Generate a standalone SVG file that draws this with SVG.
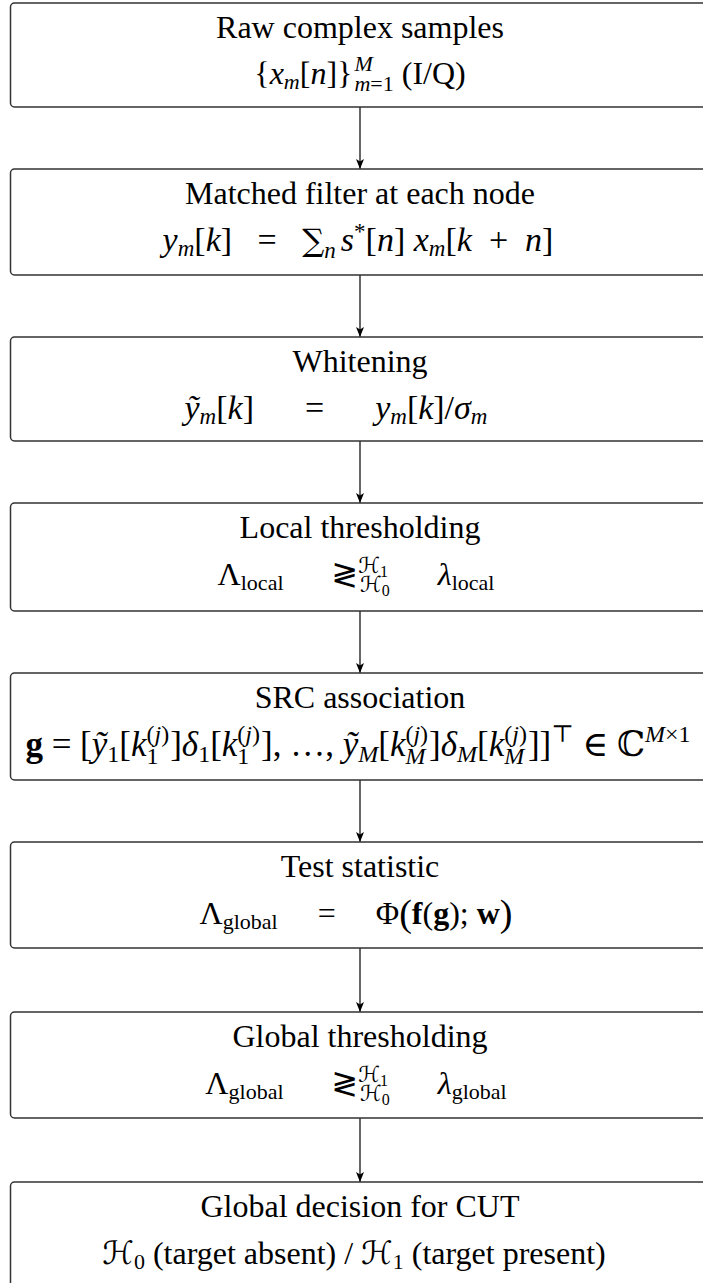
<svg xmlns="http://www.w3.org/2000/svg" width="703" height="1283" viewBox="0 0 703 1283">
<defs>
<style>
.box{fill:#fff;stroke:#333;stroke-width:1.5}
.t{font-family:"Liberation Serif","DejaVu Serif",serif;font-size:32px;fill:#000;text-anchor:middle}
.i{font-style:italic}
.b{font-weight:bold}
.s{font-size:22px}
.ss{font-size:16px}
.sym{font-family:"DejaVu Serif","DejaVu Sans",serif;font-style:normal}
.cal{font-family:"DejaVu Sans","DejaVu Serif",serif;font-style:normal}
.big{font-size:34px}
.big .s{font-size:23px}
.src{font-size:35px}
.src .s{font-size:24px}
.conn{stroke:#000;stroke-width:1.2;fill:none}
</style>
<marker id="ah" markerWidth="12" markerHeight="10" refX="10" refY="5" orient="auto" markerUnits="userSpaceOnUse">
<path d="M0,1 L10,5 L0,9 L2.5,5 Z" fill="#000"/>
</marker>
</defs>
<rect width="703" height="1283" fill="#fff"/>
<g id="connectors">
<line class="conn" x1="360" y1="107" x2="360" y2="169" marker-end="url(#ah)"/>
<line class="conn" x1="360" y1="275" x2="360" y2="337" marker-end="url(#ah)"/>
<line class="conn" x1="360" y1="441" x2="360" y2="503" marker-end="url(#ah)"/>
<line class="conn" x1="360" y1="611" x2="360" y2="673" marker-end="url(#ah)"/>
<line class="conn" x1="360" y1="780" x2="360" y2="842" marker-end="url(#ah)"/>
<line class="conn" x1="360" y1="948" x2="360" y2="1012" marker-end="url(#ah)"/>
<line class="conn" x1="360" y1="1118" x2="360" y2="1182" marker-end="url(#ah)"/>
</g>
<g id="n1">
<rect class="box" x="10.5" y="3" width="705" height="104" rx="4"/>
<text class="t" x="360" y="38">Raw complex samples</text>
<text class="t" x="360" y="84">{<tspan class="i">x</tspan><tspan class="s i" dy="5">m</tspan><tspan dy="-5">[</tspan><tspan class="i">n</tspan>]}<tspan class="s i" dx="2" dy="-13">M</tspan><tspan class="s" dx="-18.3" dy="20"><tspan class="i">m</tspan>=1</tspan><tspan dy="-7"> (I/Q)</tspan></text>
</g>
<g id="n2">
<rect class="box" x="10.5" y="169" width="705" height="106" rx="4"/>
<text class="t" x="360" y="204">Matched filter at each node</text>
<text class="t big" x="358" y="251"><tspan class="i">y</tspan><tspan class="s i" dy="5">m</tspan><tspan dy="-5">[</tspan><tspan class="i">k</tspan>]&#160;&#160;&#160;=&#160;&#160;&#160;<tspan class="sym" font-size="31">∑</tspan><tspan class="s i" dy="7">n</tspan><tspan class="i" dx="5" dy="-7">s</tspan><tspan class="s" dy="-12">*</tspan><tspan dy="12">[</tspan><tspan class="i">n</tspan>]&#160;<tspan class="i">x</tspan><tspan class="s i" dy="5">m</tspan><tspan dy="-5">[</tspan><tspan class="i">k</tspan>&#160;&#160;+&#160;&#160;<tspan class="i">n</tspan>]</text>
</g>
<g id="n3">
<rect class="box" x="10.5" y="337" width="705" height="104" rx="4"/>
<text class="t" x="360" y="372">Whitening</text>
<text class="t big" x="336" y="419"><tspan class="i">ỹ</tspan><tspan class="s i" dy="5">m</tspan><tspan dy="-5">[</tspan><tspan class="i">k</tspan>]&#160;&#160;&#160;&#160;&#160;&#160;=&#160;&#160;&#160;&#160;&#160;&#160;<tspan class="i">y</tspan><tspan class="s i" dy="5">m</tspan><tspan dy="-5">[</tspan><tspan class="i">k</tspan>]/<tspan class="i">σ</tspan><tspan class="s i" dy="5">m</tspan></text>
</g>
<g id="n4">
<rect class="box" x="10.5" y="503" width="705" height="108" rx="4"/>
<text class="t" x="360" y="538">Local thresholding</text>
<text class="t" x="356" y="585">Λ<tspan class="s" dy="5">local</tspan><tspan dy="-5">&#160;&#160;&#160;&#160;&#160;&#160;</tspan><tspan class="sym">≷</tspan><tspan class="s cal" dy="-12">ℋ</tspan><tspan class="ss" dy="4">1</tspan><tspan class="s cal" dx="-28" dy="15">ℋ</tspan><tspan class="ss" dy="4">0</tspan><tspan dy="-11">&#160;&#160;&#160;&#160;&#160;&#160;</tspan><tspan class="i">λ</tspan><tspan class="s" dy="5">local</tspan></text>
</g>
<g id="n5">
<rect class="box" x="10.5" y="673" width="705" height="107" rx="4"/>
<text class="t" x="360" y="708">SRC association</text>
<text class="t src" x="358" y="756"><tspan class="b">g</tspan>&#160;=&#160;[<tspan class="i">ỹ</tspan><tspan class="s" dy="6">1</tspan><tspan dy="-6">[</tspan><tspan class="i">k</tspan><tspan class="s" dy="8">1</tspan><tspan class="s" dx="-12" dy="-22">(<tspan class="i">j</tspan>)</tspan><tspan dx="1" dy="14">]</tspan><tspan class="i">δ</tspan><tspan class="s" dy="6">1</tspan><tspan dy="-6">[</tspan><tspan class="i">k</tspan><tspan class="s" dy="8">1</tspan><tspan class="s" dx="-12" dy="-22">(<tspan class="i">j</tspan>)</tspan><tspan dx="1" dy="14">],&#160;…,&#160;</tspan><tspan class="i">ỹ</tspan><tspan class="s i" dy="6">M</tspan><tspan dy="-6">[</tspan><tspan class="i">k</tspan><tspan class="s i" dy="8">M</tspan><tspan class="s" dx="-20" dy="-22">(<tspan class="i">j</tspan>)</tspan><tspan dx="1" dy="14">]</tspan><tspan class="i">δ</tspan><tspan class="s i" dy="6">M</tspan><tspan dy="-6">[</tspan><tspan class="i">k</tspan><tspan class="s i" dy="8">M</tspan><tspan class="s" dx="-20" dy="-22">(<tspan class="i">j</tspan>)</tspan><tspan dx="1" dy="14">]]</tspan><tspan class="s sym" dy="-14">⊤</tspan><tspan dy="14">&#160;∈&#160;</tspan><tspan class="sym">ℂ</tspan><tspan class="s" dy="-14"><tspan class="i">M</tspan>×1</tspan></text>
</g>
<g id="n6">
<rect class="box" x="10.5" y="842" width="705" height="106" rx="4"/>
<text class="t" x="360" y="877">Test statistic</text>
<text class="t" x="356" y="924">Λ<tspan class="s" dy="5">global</tspan><tspan dy="-5">&#160;&#160;&#160;&#160;&#160;=&#160;&#160;&#160;&#160;&#160;Φ</tspan><tspan font-size="38" dy="2">(</tspan><tspan class="b" dy="-2">f</tspan>(<tspan class="b">g</tspan>);&#160;<tspan class="b">w</tspan><tspan font-size="38" dy="2">)</tspan></text>
</g>
<g id="n7">
<rect class="box" x="10.5" y="1012" width="705" height="106" rx="4"/>
<text class="t" x="360" y="1047">Global thresholding</text>
<text class="t" x="356" y="1094">Λ<tspan class="s" dy="5">global</tspan><tspan dy="-5">&#160;&#160;&#160;&#160;&#160;&#160;</tspan><tspan class="sym">≷</tspan><tspan class="s cal" dy="-12">ℋ</tspan><tspan class="ss" dy="4">1</tspan><tspan class="s cal" dx="-28" dy="15">ℋ</tspan><tspan class="ss" dy="4">0</tspan><tspan dy="-11">&#160;&#160;&#160;&#160;&#160;&#160;</tspan><tspan class="i">λ</tspan><tspan class="s" dy="5">global</tspan></text>
</g>
<g id="n8">
<rect class="box" x="10.5" y="1182" width="705" height="120" rx="4"/>
<text class="t" x="360" y="1217">Global decision for CUT</text>
<text class="t" x="354" y="1264" font-size="31"><tspan class="cal">ℋ</tspan><tspan class="s" dy="5">0</tspan><tspan dy="-5"> (target absent) / </tspan><tspan class="cal">ℋ</tspan><tspan class="s" dy="5">1</tspan><tspan dy="-5"> (target present)</tspan></text>
</g>
</svg>
